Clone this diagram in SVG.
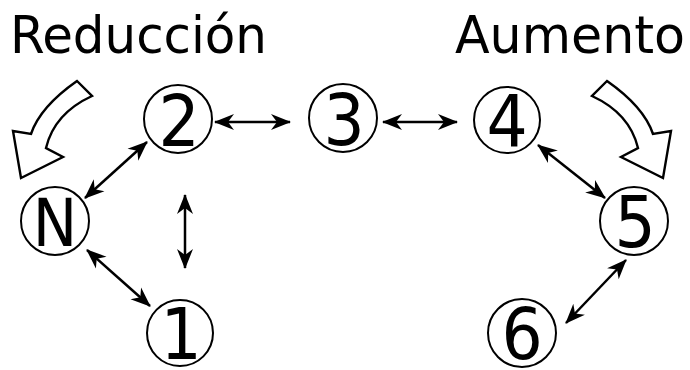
<svg xmlns="http://www.w3.org/2000/svg" width="690" height="370" viewBox="0 0 690 370">
<defs>
<style>
.t{font-family:"DejaVu Sans Condensed","DejaVu Sans",sans-serif;fill:#000}
.title{font-size:52px}
.num{font-size:72px;text-anchor:middle}
.nc{fill:none;stroke:#000;stroke-width:2}
.con{fill:none;stroke:#000;stroke-width:2.5}
.big{fill:#fff;stroke:#000;stroke-width:2.4;stroke-linejoin:miter}
</style>
<marker id="ah" viewBox="0 0 20 18" refX="19" refY="9" markerWidth="20" markerHeight="18" markerUnits="userSpaceOnUse" orient="auto-start-reverse">
<path d="M20,9 L0,1 L6,9 L0,17 Z" fill="#000"/>
</marker>
</defs>
<rect width="690" height="370" fill="#fff"/>
<g id="title-reduccion"><text class="t title" x="10" y="53" textLength="257" lengthAdjust="spacingAndGlyphs">Reducción</text></g>
<g id="title-aumento"><text class="t title" x="455" y="53" textLength="230" lengthAdjust="spacingAndGlyphs">Aumento</text></g>
<g id="arrow-reduccion"><path class="big" d="M77,81 C57,95 38,113 31,134 L13,131 L21,178 L63,157 L46,148 C51,127 66,108 92,96 Z"/></g>
<g id="arrow-aumento" transform="translate(684,0) scale(-1,1)"><path class="big" d="M77,81 C57,95 38,113 31,134 L13,131 L21,178 L63,157 L46,148 C51,127 66,108 92,96 Z"/></g>
<g id="node-2"><circle class="nc" cx="178" cy="119" r="34"/><text class="t num" x="179" y="146">2</text></g>
<g id="node-3"><circle class="nc" cx="343" cy="118" r="34"/><text class="t num" x="344" y="145">3</text></g>
<g id="node-4"><circle class="nc" cx="507" cy="120" r="33"/><text class="t num" x="507" y="146">4</text></g>
<g id="node-N"><circle class="nc" cx="55" cy="221" r="34"/><text class="t num" x="55" y="246" style="font-size:66px">N</text></g>
<g id="node-5"><circle class="nc" cx="634" cy="221" r="34"/><text class="t num" x="635" y="247">5</text></g>
<g id="node-1"><circle class="nc" cx="180" cy="333" r="33"/><text class="t num" x="181" y="359">1</text></g>
<g id="node-6"><circle class="nc" cx="522" cy="333" r="34"/><text class="t num" x="522" y="359">6</text></g>
<g id="connectors">
<line class="con" x1="215" y1="122" x2="290" y2="122" marker-start="url(#ah)" marker-end="url(#ah)"/>
<line class="con" x1="383" y1="122" x2="457" y2="122" marker-start="url(#ah)" marker-end="url(#ah)"/>
<line class="con" x1="147" y1="142" x2="85" y2="198" marker-start="url(#ah)" marker-end="url(#ah)"/>
<line class="con" x1="185" y1="195" x2="185" y2="268" marker-start="url(#ah)" marker-end="url(#ah)"/>
<line class="con" x1="87" y1="250" x2="150" y2="306" marker-start="url(#ah)" marker-end="url(#ah)"/>
<line class="con" x1="538" y1="145" x2="605" y2="198" marker-start="url(#ah)" marker-end="url(#ah)"/>
<line class="con" x1="626" y1="260" x2="566" y2="323" marker-start="url(#ah)" marker-end="url(#ah)"/>
</g>
</svg>
